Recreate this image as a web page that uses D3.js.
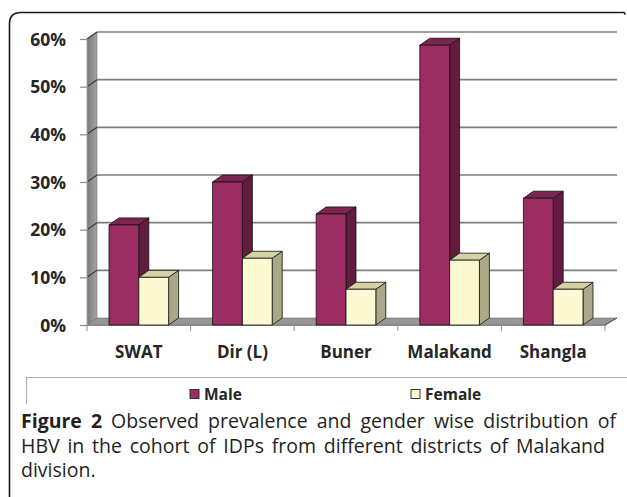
<!DOCTYPE html>
<html>
<head>
<meta charset="utf-8">
<script src="https://cdn.jsdelivr.net/npm/d3@7"></script>
<style>
  html, body { margin: 0; padding: 0; background: #fff; }
  svg { display: block; }
</style>
</head>
<body>
<svg id="chart" width="627" height="497"></svg>
<script>
// ---- data ----
const categories = ["SWAT", "Dir (L)", "Buner", "Malakand", "Shangla"];
const seriesNames = ["Male", "Female"];
const maleValues = [0.21, 0.30, 0.233, 0.587, 0.266];
const femaleValues = [0.10, 0.14, 0.075, 0.136, 0.075];
const yTicks = [0, 0.1, 0.2, 0.3, 0.4, 0.5, 0.6];
const captionBold = "Figure 2";
const captionLines = [
  "Observed prevalence and gender wise distribution of",
  "HBV in the cohort of IDPs from different districts of Malakand",
  "division."
];

// ---- styles ----
const colors = {
  Male:   { front: "#9B2D63", side: "#621C40", top: "#7B2550" },
  Female: { front: "#FCF9D2", side: "#A9A887", top: "#D5D2A6" }
};
const svg = d3.select("#chart");
const font = "'Open Sans', 'DejaVu Sans', sans-serif";

// geometry
const x0 = 87, x1 = 605, yBase = 325, yTop = 39;
const dx = 10, dy = -7;

const x = d3.scaleBand().domain(categories).range([x0, x1]).padding(0);
const xs = d3.scaleBand().domain(seriesNames).range([22, x.bandwidth() - 22]).padding(0);
const y = d3.scaleLinear().domain([0, 0.6]).range([yBase, yTop]);

// outer frame
svg.append("path")
  .attr("d", `M9.5,497 L9.5,24 Q9.5,12.5 21,12.5 L624,12.5 L625.5,14.5`)
  .attr("fill", "none").attr("stroke", "#1a1a1a").attr("stroke-width", 1.6);

// left wall
svg.append("defs").append("linearGradient").attr("id", "wallGrad")
  .attr("x1", 0).attr("x2", 1).attr("y1", 0).attr("y2", 0)
  .selectAll("stop").data([["0%", "#7a7a7a"], ["100%", "#a6a6a6"]]).join("stop")
  .attr("offset", d => d[0]).attr("stop-color", d => d[1]);

svg.append("path")
  .attr("d", `M${x0},${y(0.6)} L${x0 + dx},${y(0.6) + dy} L${x0 + dx},${yBase + dy} L${x0},${yBase} Z`)
  .attr("fill", "url(#wallGrad)").attr("stroke", "#6e6e6e").attr("stroke-width", 0.6);

// floor
svg.append("path")
  .attr("d", `M${x0},${yBase} L${x0 + dx},${yBase + dy} L${x1 + dx + 2},${yBase + dy} L${x1},${yBase} Z`)
  .attr("fill", "#969696").attr("stroke", "#6e6e6e").attr("stroke-width", 0.6);

// gridlines on back wall + left wall
const grid = svg.append("g");
yTicks.filter(t => t > 0).forEach(t => {
  grid.append("line")
    .attr("x1", x0 + dx).attr("x2", x1 + dx + 2)
    .attr("y1", y(t) + dy).attr("y2", y(t) + dy)
    .attr("stroke", "#7f7f7f").attr("stroke-width", 1.6);
  grid.append("line")
    .attr("x1", x0).attr("x2", x0 + dx)
    .attr("y1", y(t)).attr("y2", y(t) + dy)
    .attr("stroke", "#3a3a3a").attr("stroke-width", 1.2);
});

// y axis
const yAxis = svg.append("g").attr("transform", `translate(${x0},0)`)
  .call(d3.axisLeft(y).tickValues(yTicks).tickFormat(d3.format(".0%")).tickSize(7).tickPadding(14));
yAxis.select(".domain").attr("stroke", "#8c8c8c").attr("stroke-width", 1);
yAxis.selectAll(".tick line").attr("stroke", "#8c8c8c").attr("stroke-width", 1.2);
yAxis.selectAll(".tick text")
  .attr("font-family", font).attr("font-weight", "bold").attr("font-size", 17.5)
  .attr("fill", "#262626").attr("dy", "0.36em");

// x axis
const xAxis = svg.append("g").attr("transform", `translate(0,${yBase})`)
  .call(d3.axisBottom(x).tickSize(0).tickPadding(21));
xAxis.select(".domain").attr("stroke", "#8c8c8c").attr("stroke-width", 1.2);
xAxis.selectAll(".tick text")
  .attr("font-family", font).attr("font-weight", "bold").attr("font-size", 17)
  .attr("fill", "#262626");
// category separator ticks
const edges = categories.map(c => x(c)).concat([x1]);
svg.append("g").selectAll("line").data(edges).join("line")
  .attr("x1", d => d).attr("x2", d => d)
  .attr("y1", yBase).attr("y2", yBase + 6)
  .attr("stroke", "#8c8c8c").attr("stroke-width", 1);
svg.append("line")
  .attr("x1", x1).attr("y1", yBase).attr("x2", x1 + dx + 2).attr("y2", yBase + dy)
  .attr("stroke", "#4a4a4a").attr("stroke-width", 1);

// bars
const barsG = svg.append("g");
const bars = [];
categories.forEach((c, i) => {
  bars.push({ cat: c, s: "Male", v: maleValues[i] });
  bars.push({ cat: c, s: "Female", v: femaleValues[i] });
});
bars.forEach(b => {
  const bx = x(b.cat) + xs(b.s);
  const w = xs.bandwidth();
  const yt = y(b.v);
  const col = colors[b.s];
  const g = barsG.append("g").attr("stroke", "#111").attr("stroke-width", 0.8).attr("stroke-linejoin", "round");
  g.append("path")
    .attr("d", `M${bx + w},${yt} L${bx + w + dx},${yt + dy} L${bx + w + dx},${yBase + dy} L${bx + w},${yBase} Z`)
    .attr("fill", col.side);
  g.append("path")
    .attr("d", `M${bx},${yt} L${bx + dx},${yt + dy} L${bx + w + dx},${yt + dy} L${bx + w},${yt} Z`)
    .attr("fill", col.top);
  g.append("rect")
    .attr("x", bx).attr("y", yt).attr("width", w).attr("height", yBase - yt)
    .attr("fill", col.front);
});

// legend box lines
svg.append("path")
  .attr("d", "M26.5,404 L26.5,377.5 L627,377.5")
  .attr("fill", "none").attr("stroke", "#b0b0b0").attr("stroke-width", 1.2);

const legendPos = [190, 411];
const legend = svg.append("g").selectAll("g").data(seriesNames).join("g")
  .attr("transform", (d, i) => `translate(${legendPos[i]},389.5)`);
legend.append("rect").attr("width", 9).attr("height", 9)
  .attr("fill", d => colors[d].front).attr("stroke", "#222").attr("stroke-width", 0.9);
legend.append("text").attr("x", 14).attr("y", 10)
  .attr("font-family", font).attr("font-weight", "bold").attr("font-size", 15.5)
  .attr("fill", "#262626").text(d => d);

// caption (justified)
const capFont = "'Open Sans', 'Noto Sans', sans-serif";
const capSize = 19.5;
const capX = 21;
const lineEnds = [616, 605, null];
const baselines = [428, 452.5, 477];
captionLines.forEach((line, li) => {
  let words = line.split(" ").map(w => ({ t: w, bold: false }));
  if (li === 0) words = captionBold.split(" ").map(w => ({ t: w, bold: true })).concat(words);
  const g = svg.append("g");
  const nodes = words.map(w => g.append("text")
    .attr("font-family", capFont).attr("font-size", capSize)
    .attr("font-weight", w.bold ? "bold" : "normal")
    .attr("fill", "#231f20").attr("y", baselines[li]).text(w.t));
  const widths = nodes.map(n => n.node().getComputedTextLength());
  const spaceW = capSize * 0.26;
  let gap = spaceW;
  if (lineEnds[li] !== null) {
    const total = d3.sum(widths);
    gap = Math.max(2, (lineEnds[li] - capX - total) / (words.length - 1));
  }
  let cx = capX;
  nodes.forEach((n, i) => { n.attr("x", cx); cx += widths[i] + gap; });
});
</script>
</body>
</html>
